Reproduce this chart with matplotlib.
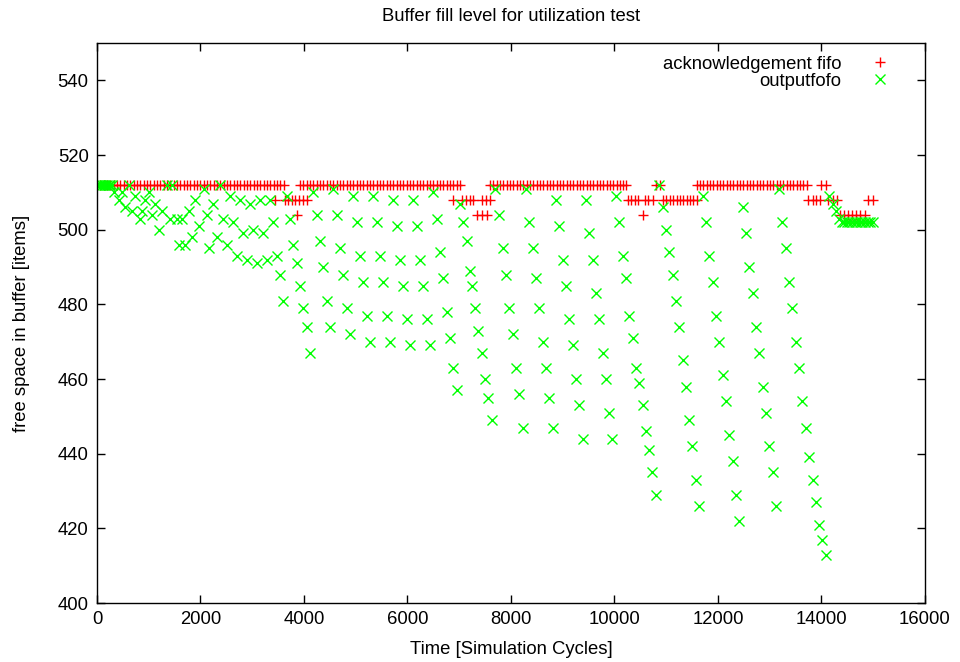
import matplotlib
matplotlib.use("Agg")
import matplotlib.pyplot as plt

plt.rcParams['font.family'] = ['Liberation Sans', 'DejaVu Sans']

# outputfofo samples: (time, free space)
out_time = [
    0, 30, 60, 95, 130, 160, 195, 230, 260, 290,
    322, 419, 483, 547, 612, 676, 740, 837, 869, 934, 998, 1063, 1127, 1192, 1256,
    1352, 1417, 1449, 1546, 1578, 1642, 1706, 1771, 1835, 1899, 1964, 2061, 2125, 2170,
    2248, 2312, 2376, 2441, 2505, 2570, 2634, 2698, 2763, 2827, 2892, 2956, 3020, 3085,
    3149, 3213, 3278, 3342, 3406, 3471, 3535, 3600,
    3664, 3729, 3793, 3857, 3921, 3986, 4050, 4115,
    4180, 4244, 4308, 4373, 4437, 4501,
    4566, 4631, 4695, 4759, 4824, 4888,
    4953, 5017, 5081, 5145, 5210, 5274,
    5338, 5403, 5467, 5532, 5596, 5661,
    5725, 5790, 5854, 5919, 5983, 6047,
    6111, 6176, 6240, 6305, 6369, 6433,
    6498, 6563, 6627, 6691, 6756, 6820, 6885, 6949,
    7013, 7078, 7142, 7206, 7250, 7310, 7370, 7432, 7496, 7560, 7625,
    7700, 7765, 7838, 7902, 7966, 8031, 8095, 8159, 8224,
    8288, 8352, 8417, 8481, 8545, 8610, 8674, 8739, 8803,
    8868, 8932, 8997, 9061, 9125, 9190, 9254, 9318, 9383,
    9447, 9511, 9576, 9640, 9704, 9769, 9833, 9897, 9962,
    10027, 10091, 10156, 10220, 10284, 10349, 10413, 10478, 10542, 10606, 10671, 10735, 10800,
    10864, 10929, 10993, 11057, 11122, 11186, 11251, 11315, 11379, 11444, 11508, 11573, 11637,
    11702, 11766, 11831, 11895, 11959, 12024, 12088, 12152, 12217, 12281, 12345, 12410,
    12475, 12539, 12604, 12668, 12732, 12796, 12861, 12925, 12990, 13054, 13118,
    13182, 13247, 13311, 13375, 13440, 13504, 13568, 13633, 13698, 13762, 13827, 13891, 13955, 14020, 14084,
    14150, 14214, 14278, 14342, 14390, 14440, 14490, 14540, 14590, 14640, 14690, 14740, 14790,
    14840, 14890, 14940, 14990,
]
out_free = [
    512, 512, 512, 512, 512, 512, 512, 512, 512, 512,
    510, 508, 510, 506, 512, 505, 509, 503, 505, 508, 510, 504, 507, 500, 505,
    512, 503, 512, 503, 496, 503, 496, 505, 498, 508, 501, 511, 504, 495,
    507, 498, 512, 503, 496, 509, 502, 493, 508, 499, 492, 507, 500, 491,
    508, 499, 492, 508, 502, 493, 488, 481,
    509, 503, 496, 491, 485, 479, 474, 467,
    510, 504, 497, 490, 481, 474,
    511, 504, 495, 488, 479, 472,
    509, 502, 493, 486, 477, 470,
    509, 502, 493, 486, 477, 470,
    508, 501, 492, 485, 476, 469,
    508, 501, 492, 485, 476, 469,
    510, 503, 494, 487, 478, 471, 463, 457,
    507, 502, 497, 489, 485, 479, 473, 467, 460, 455, 449,
    511, 504, 495, 488, 479, 472, 463, 456, 447,
    511, 502, 495, 487, 479, 470, 463, 455, 447,
    508, 501, 492, 485, 476, 469, 460, 453, 444,
    508, 499, 492, 483, 476, 467, 460, 451, 444,
    509, 502, 493, 487, 477, 471, 463, 459, 453, 446, 441, 435, 429,
    512, 506, 500, 494, 488, 481, 474, 465, 458, 449, 442, 433, 426,
    509, 502, 493, 486, 477, 470, 461, 454, 445, 438, 429, 422,
    506, 499, 490, 483, 474, 467, 458, 451, 442, 435, 426,
    511, 502, 495, 486, 479, 470, 463, 454, 447, 439, 433, 427, 421, 417, 413,
    509, 507, 505, 503, 502, 502, 502, 502, 502, 502, 502, 502, 502,
    502, 502, 502, 502,
]

# acknowledgement fifo samples, grouped by the level they sit at
ack_512_time = [
    0, 64, 129, 193, 258, 322, 386, 451, 515, 580, 644, 708, 773, 837, 902, 966,
    1030, 1095, 1159, 1224, 1288, 1352, 1417, 1481, 1546, 1610, 1674, 1739, 1803,
    1868, 1932, 1996, 2061, 2125, 2190, 2254, 2318, 2383, 2447, 2512, 2576, 2640,
    2705, 2769, 2834, 2898, 2962, 3027, 3091, 3156, 3220, 3284, 3349, 3413, 3478,
    3542, 3606,
    3922, 3986, 4051, 4115, 4180, 4244, 4308, 4373, 4437, 4501, 4566, 4631, 4695,
    4759, 4824, 4888, 4953, 5017, 5081, 5145, 5210, 5274, 5338, 5403, 5467, 5532,
    5596, 5661, 5725, 5790, 5854, 5919, 5983, 6047, 6111, 6176, 6240, 6305, 6369,
    6433, 6498, 6563, 6627, 6691, 6756, 6820, 6885, 6949, 7013,
    7593, 7657, 7722, 7786, 7851, 7915, 7979, 8044, 8108, 8173, 8237, 8301, 8366,
    8430, 8495, 8559, 8623, 8688, 8752, 8817, 8881, 8945, 9010, 9074, 9139, 9203,
    9267, 9332, 9396, 9461, 9525, 9589, 9654, 9718, 9783, 9847, 9911, 9976, 10040,
    10105, 10169, 10220,
    10800, 10877,
    11590, 11654, 11718, 11783, 11847, 11912, 11976, 12040, 12105, 12169, 12234,
    12298, 12362, 12427, 12491, 12556, 12620, 12684, 12749, 12813, 12878, 12942,
    13006, 13071, 13135, 13200, 13264, 13328, 13393, 13457, 13522, 13586, 13650,
    13715,
    14000, 14097,
]
ack_508_time = [
    3439, 3632, 3696, 3761, 3825, 3909, 3986, 4051,
    6872, 7046, 7129, 7206, 7271, 7432, 7515, 7593,
    10265, 10329, 10394, 10458, 10587, 10652, 10748,
    10940, 11005, 11070, 11135, 11200, 11265, 11330, 11395, 11460, 11525, 11590,
    13743, 13827, 13904, 13981,
    14130, 14214, 14291,
    14890, 14987,
]
ack_504_time = [
    3857,
    7335, 7432, 7528,
    10542,
    14355, 14432, 14515, 14593, 14677, 14754, 14838,
]

x_ticks = [0, 2000, 4000, 6000, 8000, 10000, 12000, 14000, 16000]
y_ticks = [400, 420, 440, 460, 480, 500, 520, 540]

ack_time = ack_512_time + ack_508_time + ack_504_time
ack_free = [512] * len(ack_512_time) + [508] * len(ack_508_time) + [504] * len(ack_504_time)

fs = 13.3

fig = plt.figure(figsize=(9.6, 6.62), dpi=100)
ax = fig.add_axes([0.101, 0.089, 0.8625, 0.846])

ax.plot(ack_time, ack_free, linestyle='none', marker='+', color='#ff0000',
        markersize=7, markeredgewidth=1.0, label='acknowledgement fifo')
ax.plot(out_time, out_free, linestyle='none', marker='x', color='#00ff00',
        markersize=6.5, markeredgewidth=1.0, label='outputfofo')

ax.set_xlim(0, 16000)
ax.set_ylim(400, 550)
ax.set_xticks(x_ticks)
ax.set_yticks(y_ticks)
ax.tick_params(direction='in', length=6, width=1, top=True, right=True,
               labelsize=fs, pad=6)
for s in ax.spines.values():
    s.set_linewidth(1)

ax.set_title('Buffer fill level for utilization test', fontsize=fs, pad=16)
ax.set_xlabel('Time [Simulation Cycles]', fontsize=fs, labelpad=9)
ax.set_ylabel('free space in buffer [items]', fontsize=fs, labelpad=20)

ax.legend(loc='upper right', markerfirst=False, frameon=False, numpoints=1,
          fontsize=fs, handlelength=1.2, handletextpad=1.5, labelspacing=0.0,
          borderaxespad=0.3, bbox_to_anchor=(0.975, 1.0))

fig.savefig('out.png', dpi=100)
